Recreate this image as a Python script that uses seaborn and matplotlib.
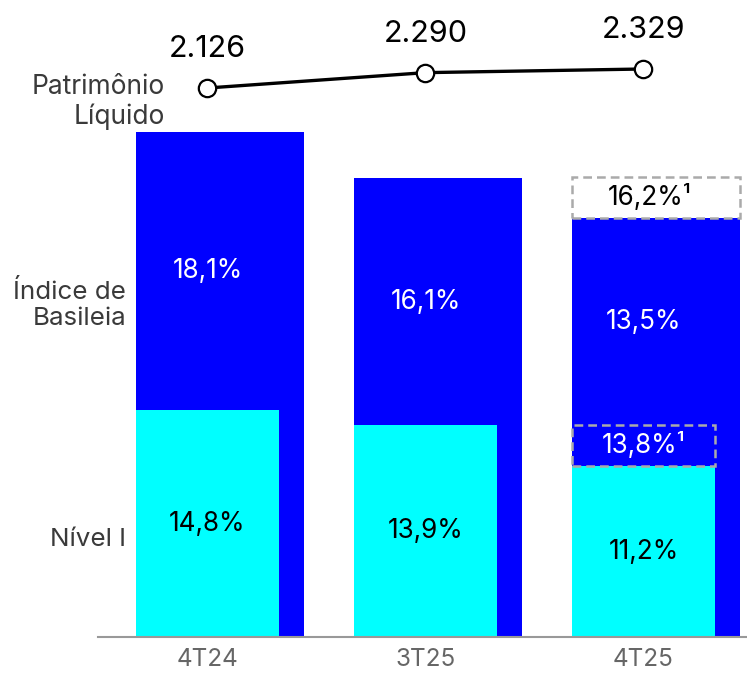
import matplotlib
matplotlib.use("Agg")
import matplotlib.pyplot as plt
import matplotlib.patches as mpatches
import seaborn as sns
import numpy as np
import pandas as pd

# ---------------- data ----------------
periods = ["4T24", "3T25", "4T25"]
basileia_labels = ["18,1%", "16,1%", "13,5%"]
nivel1_labels = ["14,8%", "13,9%", "11,2%"]
# displayed bar heights (visual units)
basileia_height = [50.5, 45.9, 41.9]
nivel1_height = [22.7, 21.2, 17.1]
# pro-forma boxes on last period
proforma_basileia_label = "16,2%¹"
proforma_basileia_top = 46.0
proforma_nivel1_label = "13,8%¹"
proforma_nivel1_top = 21.2
patrimonio = [2126, 2290, 2329]

# ---------------- style ----------------
sns.set_theme(style="white")
plt.rcParams["font.family"] = ["Inter", "DejaVu Sans"]

BLUE = "#0000FF"
CYAN = "#00FFFF"
LABEL_GREY = "#3a3a3a"
TICK_GREY = "#666666"

fig = plt.figure(figsize=(7.47, 6.75), dpi=100)
W, H = 747, 675
ax = fig.add_axes([98 / W, 38 / H, (W - 98) / W, 637 / H])

pos = np.arange(len(periods))
w_cyan = 0.656
w_blue = 0.771
shift = (w_blue - w_cyan) / 2

df_b = pd.DataFrame({"x": pos + shift, "h": basileia_height})
df_n = pd.DataFrame({"x": pos.astype(float), "h": nivel1_height})

sns.barplot(data=df_b, x="x", y="h", native_scale=True, width=w_blue,
            color=BLUE, saturation=1, linewidth=0, ax=ax)
sns.barplot(data=df_n, x="x", y="h", native_scale=True, width=w_cyan,
            color=CYAN, saturation=1, linewidth=0, ax=ax)

ax.set_xlim(-0.502, 2.475)
ax.set_ylim(0, 63.7)
ax.set_xlabel("")
ax.set_ylabel("")
ax.set_yticks([])
ax.set_xticks(pos)
ax.set_xticklabels(periods, fontsize=17.5, color=TICK_GREY)
ax.tick_params(axis="x", length=0, pad=8)
for s in ["top", "right", "left"]:
    ax.spines[s].set_visible(False)
ax.spines["bottom"].set_color("#999999")
ax.spines["bottom"].set_linewidth(1.5)

# pro-forma dashed boxes
last = len(periods) - 1
box1 = mpatches.Rectangle((last + shift - w_blue / 2, basileia_height[last]), w_blue,
                          proforma_basileia_top - basileia_height[last],
                          fill=False, edgecolor="#aaaaaa", linestyle=(0, (3.5, 2)),
                          linewidth=1.8, zorder=5)
ax.add_patch(box1)
box2 = mpatches.Rectangle((last - w_cyan / 2, nivel1_height[last]), w_cyan,
                          proforma_nivel1_top - nivel1_height[last],
                          fill=False, edgecolor="#aaaaaa", linestyle=(0, (3.5, 2)),
                          linewidth=1.8, zorder=5)
ax.add_patch(box2)

# bar labels
FS = 18.8
for i in pos:
    top_cyan = nivel1_height[i]
    top_blue_vis = basileia_height[i]
    low_blue = proforma_nivel1_top if i == last else nivel1_height[i]
    ax.text(i, (low_blue + top_blue_vis) / 2, basileia_labels[i], ha="center",
            va="center", color="white", fontsize=FS)
    ax.text(i, top_cyan / 2, nivel1_labels[i], ha="center", va="center",
            color="black", fontsize=FS)

ax.text(last + 0.03, (basileia_height[last] + proforma_basileia_top) / 2,
        proforma_basileia_label, ha="center", va="center", color="black", fontsize=FS)
ax.text(last, (nivel1_height[last] + proforma_nivel1_top) / 2,
        proforma_nivel1_label, ha="center", va="center", color="white", fontsize=FS)

# patrimonio line
ax2 = ax.twinx()
ax2.set_ylim(-3739, 3066)
sns.lineplot(x=pos, y=patrimonio, ax=ax2, color="black", linewidth=2.4,
             marker="o", markersize=12.5, markerfacecolor="white",
             markeredgecolor="black", markeredgewidth=1.6)
for i, v in zip(pos, patrimonio):
    ax2.annotate(f"{v:,}".replace(",", "."), (i, v), xytext=(0, 28),
                 textcoords="offset points", ha="center", va="center",
                 fontsize=22, color="black")
ax2.set_yticks([])
ax2.set_ylabel("")
for s in ax2.spines.values():
    s.set_visible(False)

# left row labels
fig.text(165 / W, 1 - 102 / H, "Patrimônio\nLíquido", ha="right", va="center",
         fontsize=19, color=LABEL_GREY, linespacing=1.15)
fig.text(126 / W, 1 - 305 / H, "Índice de\nBasileia", ha="right", va="center",
         fontsize=18.7, color=LABEL_GREY, linespacing=1.15)
fig.text(126 / W, 1 - 540 / H, "Nível I", ha="right", va="center",
         fontsize=18.7, color=LABEL_GREY)

fig.savefig("out.png", dpi=100)
